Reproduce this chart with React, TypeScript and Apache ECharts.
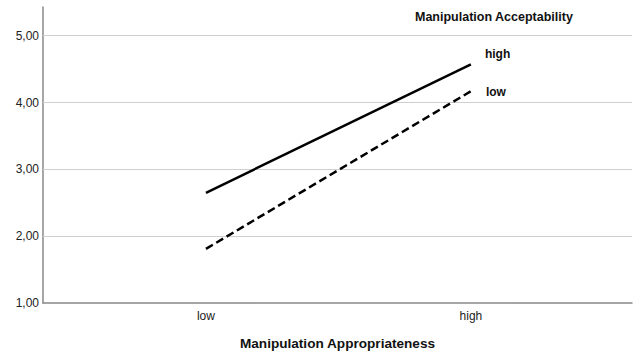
import React, { useEffect, useRef } from "react";
import * as echarts from "echarts";

const categories = ["low", "high"];
const highValues = [2.65, 4.57];
const lowValues = [1.81, 4.17];
const yTicks = [1, 2, 3, 4, 5];
const gridValues = [2, 3, 4, 5];

export default function App() {
  const ref = useRef<HTMLDivElement>(null);
  useEffect(() => {
    if (!ref.current) return;
    const chart = echarts.init(ref.current, null, { renderer: "svg" });
    const font = "'Liberation Sans', Arial, sans-serif";
    const mk = (vals: number[]) => vals.map((v, i) => [i, v]);
    chart.setOption({
      animation: false,
      backgroundColor: "#ffffff",
      textStyle: { fontFamily: font },
      grid: { left: 43, right: 1, top: 7, height: 297, containLabel: false },
      graphic: [
        {
          type: "text",
          left: 415,
          top: 10,
          style: {
            text: "Manipulation Acceptability",
            font: `bold 12.5px ${font}`,
            fill: "#111",
          },
        },
      ],
      xAxis: {
        type: "value",
        min: -0.615,
        max: 1.608,
        name: "Manipulation Appropriateness",
        nameLocation: "middle",
        nameGap: 33,
        nameTextStyle: { fontFamily: font, fontSize: 13.6, fontWeight: "bold", color: "#111" },
        axisLine: { show: true, onZero: false, lineStyle: { color: "#888", width: 1.5 } },
        axisTick: { show: false },
        splitLine: { show: false },
        axisLabel: {
          customValues: [0, 1],
          formatter: (v: number) => categories[Math.round(v)] ?? "",
          color: "#222",
          fontSize: 12,
          margin: 7,
        },
      },
      yAxis: {
        type: "value",
        min: 1,
        max: 5.43,
        axisLine: { show: true, onZero: false, lineStyle: { color: "#888", width: 1.5 } },
        axisTick: { show: false },
        splitLine: { show: false },
        axisLabel: {
          customValues: yTicks,
          formatter: (v: number) => v.toFixed(2).replace(".", ","),
          color: "#222",
          fontSize: 12,
          margin: 4,
        },
      },
      series: [
        {
          name: "high",
          type: "line",
          data: mk(highValues),
          symbol: "none",
          lineStyle: { color: "#000", width: 2.5, type: "solid" },
          z: 3,
          endLabel: {
            show: true,
            formatter: "high",
            fontFamily: font,
            fontSize: 12,
            fontWeight: "bold",
            color: "#111",
            distance: 14,
            offset: [0, -10],
          },
          markLine: {
            silent: true,
            symbol: "none",
            label: { show: false },
            lineStyle: { color: "#cfcfcf", width: 1, type: "solid" },
            data: gridValues.map((v) => ({ yAxis: v })),
            z: 1,
          },
        },
        {
          name: "low",
          type: "line",
          data: mk(lowValues),
          symbol: "none",
          lineStyle: { color: "#000", width: 2.5, type: [8, 4] },
          z: 3,
          endLabel: {
            show: true,
            formatter: "low",
            fontFamily: font,
            fontSize: 12,
            fontWeight: "bold",
            color: "#111",
            distance: 15,
            offset: [0, 1],
          },
        },
      ],
    });
    return () => chart.dispose();
  }, []);
  return (
    <div
      ref={ref}
      style={{ position: "absolute", left: 0, top: 0, width: 633, height: 355 }}
    />
  );
}
